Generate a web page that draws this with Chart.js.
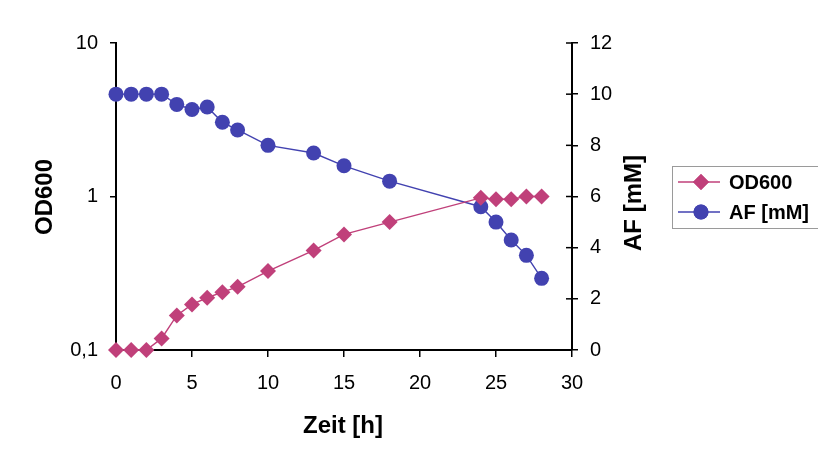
<!DOCTYPE html>
<html>
<head>
<meta charset="utf-8">
<script src="https://cdn.jsdelivr.net/npm/chart.js@4.4.1/dist/chart.umd.min.js"></script>
<style>
  html, body { margin: 0; padding: 0; background: #fff; }
  #wrap { position: relative; width: 818px; height: 452px; }
</style>
</head>
<body>
<div id="wrap"><canvas id="chart" width="818" height="452"></canvas></div>
<script>
const hours = [0, 1, 2, 3, 4, 5, 6, 7, 8, 10, 13, 15, 18, 24, 25, 26, 27, 28];
const od600 = [0.1, 0.1, 0.1, 0.119, 0.168, 0.198, 0.219, 0.238, 0.258, 0.327, 0.445, 0.566, 0.681, 0.98, 0.96, 0.96, 1.0, 1.0];
const afMM = [10.0, 10.0, 10.0, 10.0, 9.6, 9.4, 9.5, 8.9, 8.6, 8.0, 7.7, 7.2, 6.6, 5.6, 5.0, 4.3, 3.7, 2.8];

const odTicks = [0.1, 1, 10];
const odTickLabels = ['0,1', '1', '10'];

const seriesNames = ['OD600', 'AF [mM]'];
const pink = '#c0407a';
const blue = '#4242b0';
const font = '"Liberation Sans", Arial, sans-serif';

(function () {
    // Achsentitel, Innen-Ticks rechts und Legende
    const extras = {
        id: 'extras',
        afterDraw(chart) {
            const ctx = chart.ctx;
            const a = chart.chartArea;
            const y1 = chart.scales.y1;
            ctx.save();
            // rechte Achse: Ticks auch nach innen
            ctx.strokeStyle = '#000';
            ctx.lineWidth = 1.5;
            y1.ticks.forEach(t => {
                const py = y1.getPixelForValue(t.value);
                ctx.beginPath();
                ctx.moveTo(a.right - 6, py);
                ctx.lineTo(a.right, py);
                ctx.stroke();
            });

            ctx.fillStyle = '#000';
            ctx.font = 'bold 24px ' + font;
            ctx.textAlign = 'center';
            ctx.textBaseline = 'middle';
            ctx.fillText('Zeit [h]', 343, 426);

            ctx.save();
            ctx.translate(45, 197);
            ctx.rotate(-Math.PI / 2);
            ctx.fillText('OD600', 0, 0);
            ctx.restore();

            ctx.save();
            ctx.translate(634, 203);
            ctx.rotate(-Math.PI / 2);
            ctx.fillText('AF [mM]', 0, 0);
            ctx.restore();

            // Legende
            const lx = 672, ly = 166, lw = 146, lh = 62;
            ctx.strokeStyle = '#9a9a9a';
            ctx.lineWidth = 1;
            ctx.strokeRect(lx + 0.5, ly + 0.5, lw, lh);
            const rows = [
                { name: seriesNames[0], color: pink, style: 'rectRot', r: 8, y: ly + 16 },
                { name: seriesNames[1], color: blue, style: 'circle', r: 7.5, y: ly + 46 }
            ];
            rows.forEach(row => {
                ctx.strokeStyle = row.color;
                ctx.lineWidth = 1.3;
                ctx.beginPath();
                ctx.moveTo(lx + 6, row.y);
                ctx.lineTo(lx + 48, row.y);
                ctx.stroke();
                ctx.fillStyle = row.color;
                Chart.helpers.drawPoint(ctx, { pointStyle: row.style, radius: row.r, borderWidth: 0 }, lx + 29, row.y);
                ctx.fill();
                ctx.fillStyle = '#000';
                ctx.font = 'bold 20px ' + font;
                ctx.textAlign = 'left';
                ctx.fillText(row.name, lx + 57, row.y + 1);
            });
            ctx.restore();
        }
    };

    const ctx = document.getElementById('chart').getContext('2d');

    new Chart(ctx, {
        type: 'line',
        data: {
            labels: hours,
            datasets: [{
                label: seriesNames[0],
                data: hours.map((h, i) => ({ x: h, y: od600[i] })),
                yAxisID: 'y',
                borderColor: pink,
                backgroundColor: pink,
                borderWidth: 1.4,
                pointStyle: 'rectRot',
                pointRadius: 8,
                pointBorderWidth: 0,
                tension: 0,
                clip: false
            }, {
                label: seriesNames[1],
                data: hours.map((h, i) => ({ x: h, y: afMM[i] })),
                yAxisID: 'y1',
                borderColor: blue,
                backgroundColor: blue,
                borderWidth: 1.4,
                pointStyle: 'circle',
                pointRadius: 7.5,
                pointBorderWidth: 0,
                tension: 0,
                clip: false
            }]
        },
        options: {
            responsive: false,
            animation: false,
            layout: { padding: { top: 43, left: 0, right: 0, bottom: 0 } },
            plugins: {
                legend: { display: false },
                tooltip: { enabled: false }
            },
            scales: {
                x: {
                    type: 'linear',
                    min: 0,
                    max: 30,
                    ticks: { stepSize: 5, color: '#000', font: { family: font, size: 20 }, padding: 14 },
                    grid: { drawOnChartArea: false, color: '#000', tickLength: 7, lineWidth: 1.5 },
                    border: { color: '#000', width: 2 },
                    afterFit: s => { s.height = 102; }
                },
                y: {
                    type: 'logarithmic',
                    position: 'left',
                    min: 0.1,
                    max: 10,
                    afterBuildTicks: s => { s.ticks = odTicks.map(v => ({ value: v })); },
                    ticks: {
                        color: '#000',
                        font: { family: font, size: 20 },
                        padding: 12,
                        callback: v => odTickLabels[odTicks.indexOf(v)]
                    },
                    grid: { drawOnChartArea: false, color: '#000', tickLength: 6, lineWidth: 1.5 },
                    border: { color: '#000', width: 2 },
                    afterFit: s => { s.width = 116; }
                },
                y1: {
                    type: 'linear',
                    position: 'right',
                    min: 0,
                    max: 12,
                    ticks: { stepSize: 2, color: '#000', font: { family: font, size: 20 }, padding: 12 },
                    grid: { drawOnChartArea: false, color: '#000', tickLength: 6, lineWidth: 1.5 },
                    border: { color: '#000', width: 2 },
                    afterFit: s => { s.width = 246; }
                }
            }
        },
        plugins: [extras]
    });
})();
</script>
</body>
</html>
